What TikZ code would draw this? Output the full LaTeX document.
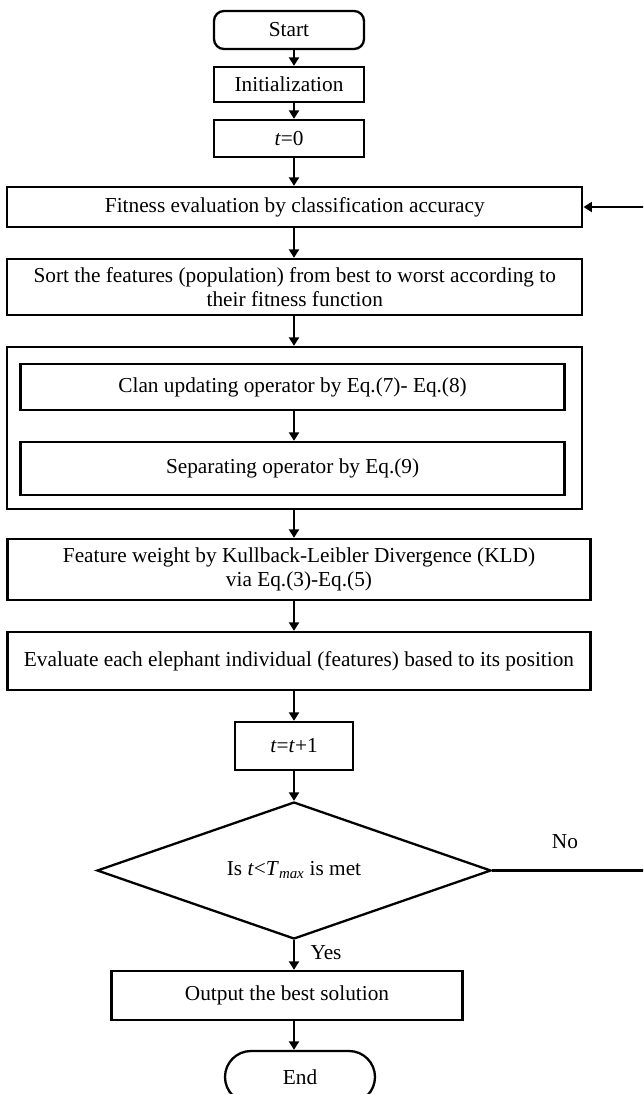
\documentclass[tikz,border=0pt]{standalone}
\usepackage{fontspec}
\setmainfont{Liberation Serif}
\usetikzlibrary{arrows.meta,shapes.geometric,shapes.misc}
\begin{document}
\begin{tikzpicture}[x=1pt,y=-1pt,
  every node/.style={font=\fontsize{21.3}{24.5}\selectfont},
  box/.style={draw, line width=2.3pt, inner sep=0pt, align=center},
  arr/.style={line width=2.3pt, -{Triangle[length=8.5pt,width=10pt]}}]
\useasboundingbox (0,0) rectangle (643,1094);
\clip (0,0) rectangle (643,1094);
\coordinate (col) at (294,0);
\node[box, rounded corners=10pt, minimum width=150pt, minimum height=38pt] (start) at (289,30) {Start};
\node[box, minimum width=150pt, minimum height=35pt] (init) at (289,84.5) {Initialization};
\node[box, minimum width=150pt, minimum height=37pt] (t0) at (289,138.5) {\textit{t}=0};
\node[box, minimum width=575pt, minimum height=40pt] (fit) at (294.8,207) {Fitness evaluation by classification accuracy};
\node[box, minimum width=575pt, minimum height=56pt] (sort) at (294.8,287) {Sort the features (population) from best to worst according to\\their fitness function};
\node[box, minimum width=575pt, minimum height=162pt] (outer) at (294.8,428) {};
\node[box, minimum width=544pt, minimum height=46pt] (clan) at (292.6,387) {Clan updating operator by Eq.(7)- Eq.(8)};
\node[box, minimum width=544pt, minimum height=53pt] (sep) at (292.6,468.5) {Separating operator by Eq.(9)};
\node[box, minimum width=583pt, minimum height=61pt] (feat) at (299,569.5) {Feature weight by Kullback-Leibler Divergence (KLD)\\via Eq.(3)-Eq.(5)};
\node[box, minimum width=583pt, minimum height=58pt] (eval) at (299,661) {Evaluate each elephant individual (features) based to its position};
\node[box, minimum width=117.7pt, minimum height=48pt] (tt) at (294,746) {\textit{t}=\textit{t}+1};
\node[box, diamond, minimum width=394pt, minimum height=137pt] (dia) at (294,870.5) {};
\node (diatext) at (294,870) {Is \textit{t}<\textit{T}\textsubscript{\textit{max}} is met};
\node (no) at (565,842) {No};
\node (yes) at (326,953) {Yes};
\node[box, minimum width=351pt, minimum height=49pt] (out) at (287,995.5) {Output the best solution};
\node[box, rounded rectangle, minimum width=150pt, minimum height=52pt] (end) at (300,1077) {End};
\draw[arr] (start.south -| col) -- (init.north -| col);
\draw[arr] (init.south -| col) -- (t0.north -| col);
\draw[arr] (t0.south -| col) -- (fit.north -| col);
\draw[arr] (fit.south -| col) -- (sort.north -| col);
\draw[arr] (sort.south -| col) -- (outer.north -| col);
\draw[arr] (clan.south -| col) -- (sep.north -| col);
\draw[arr] (outer.south -| col) -- (feat.north -| col);
\draw[arr] (feat.south -| col) -- (eval.north -| col);
\draw[arr] (eval.south -| col) -- (tt.north -| col);
\draw[arr] (tt.south) -- (dia.north);
\draw[arr] (dia.south) -- (out.north -| dia.south);
\draw[arr] (out.south -| col) -- (end.north -| col);
\coordinate (loopb) at (648,870.5);
\coordinate (loopt) at (648,207);
\draw[arr] (dia.east) -- (loopb) -- (loopt) -- (fit.east);
\end{tikzpicture}
\end{document}
